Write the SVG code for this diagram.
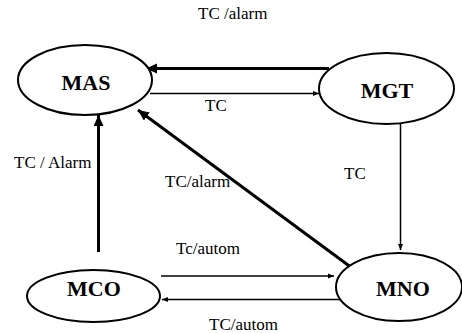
<svg xmlns="http://www.w3.org/2000/svg" width="462" height="333" viewBox="0 0 462 333">
<defs>
<style>
.node ellipse{fill:#fff;stroke:#000;stroke-width:2}
.thick{stroke:#000;stroke-width:3;fill:none}
.thin{stroke:#000;stroke-width:1.5;fill:none}
</style>
<marker id="hb" markerUnits="userSpaceOnUse" markerWidth="13" markerHeight="11" refX="11" refY="5" orient="auto"><path d="M0,0 L11,5 L0,10 Z" fill="#000"/></marker>
<marker id="hs" markerUnits="userSpaceOnUse" markerWidth="8" markerHeight="8" refX="6" refY="3.5" orient="auto"><path d="M0,1 L6,3.5 L0,6 Z" fill="#000"/></marker>
</defs>
<rect width="462" height="333" fill="#fff"/>
<g id="connectors">
<line class="thick" x1="329" y1="68.5" x2="146" y2="68.5" marker-end="url(#hb)"/>
<line class="thin" x1="150" y1="93.5" x2="319" y2="93.5" marker-end="url(#hs)"/>
<line class="thick" x1="98.5" y1="252" x2="98.5" y2="115" marker-end="url(#hb)"/>
<line class="thick" x1="352" y1="268" x2="138" y2="110" marker-end="url(#hb)"/>
<line class="thin" x1="400.5" y1="124" x2="400.5" y2="250" marker-end="url(#hs)"/>
<line class="thin" x1="161" y1="276" x2="334" y2="276" marker-end="url(#hs)"/>
<line class="thin" x1="344" y1="299.5" x2="162" y2="299.5" marker-end="url(#hs)"/>
</g>
<g id="labels" font-family="Liberation Serif" font-size="17" fill="#000">
<text x="198" y="19">TC /alarm</text>
<text x="205" y="111">TC</text>
<text x="14" y="168">TC / Alarm</text>
<text x="165" y="187">TC/alarm</text>
<text x="344" y="179">TC</text>
<text x="176" y="254">Tc/autom</text>
<text x="209" y="330">TC/autom</text>
</g>
<g font-family="Liberation Serif" font-weight="bold" font-size="22" text-anchor="middle" fill="#000">
<g id="MAS" class="node"><ellipse cx="85" cy="80" rx="67" ry="35"/><text x="86" y="90">MAS</text></g>
<g id="MGT" class="node"><ellipse cx="386.5" cy="88.5" rx="67.5" ry="35.5"/><text x="387" y="98">MGT</text></g>
<g id="MCO" class="node"><ellipse cx="93.5" cy="296" rx="66.5" ry="26"/><text x="94" y="296">MCO</text></g>
<g id="MNO" class="node"><ellipse cx="399" cy="287" rx="63" ry="34"/><text x="403" y="296">MNO</text></g>
</g>
</svg>
